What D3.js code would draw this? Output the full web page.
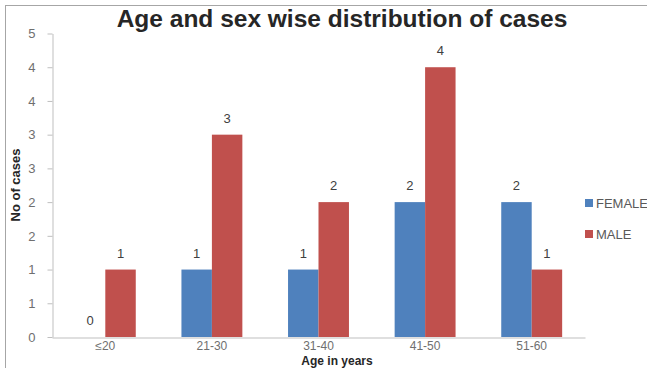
<!DOCTYPE html>
<html>
<head>
<meta charset="utf-8">
<script src="https://cdn.jsdelivr.net/npm/d3@7"></script>
<style>
  html, body { margin: 0; padding: 0; background: #fff; }
  svg { display: block; }
  text { font-family: "Liberation Sans", "DejaVu Sans", sans-serif; }
</style>
</head>
<body>
<svg id="chart" width="647" height="368"></svg>
<script>
// Age groups and counts per sex
const categories = ["≤20", "21-30", "31-40", "41-50", "51-60"];
const seriesNames = ["FEMALE", "MALE"];
const female = [0, 1, 1, 2, 2];
const male = [1, 3, 2, 4, 1];
const colors = ["#4f81bd", "#c0504d"];
// Value axis runs 0–4.5 in steps of 0.5; labels are rounded to whole numbers
const yTicks = [0, 0.5, 1, 1.5, 2, 2.5, 3, 3.5, 4, 4.5];

const svg = d3.select("#chart");
const W = 647, H = 368;
const m = { left: 52, right: 585, top: 33.5, bottom: 337 };

// outer chart frame
svg.append("rect")
  .attr("x", 5.5).attr("y", 5.5)
  .attr("width", W + 10).attr("height", H + 10)
  .attr("fill", "#fff").attr("stroke", "#a6a6a6").attr("stroke-width", 1);

const x0 = d3.scaleBand().domain(categories).range([m.left, m.right]).paddingInner(0).paddingOuter(0);
// two bars per group with a 150% gap between groups
const x1 = d3.scaleBand().domain(seriesNames).range([0, x0.bandwidth()]).paddingInner(0).paddingOuter(0.75);
const y = d3.scaleLinear().domain([0, 4.5]).range([m.bottom, m.top]);

// y axis
const yAxis = d3.axisLeft(y).tickValues(yTicks)
  .tickFormat(d => String(Math.floor(d + 0.5))).tickSizeInner(5).tickSizeOuter(0).tickPadding(12);
const gy = svg.append("g").attr("transform", `translate(${m.left + 0.5},0)`).call(yAxis);
gy.select(".domain").attr("stroke", "#bfbfbf");
gy.selectAll(".tick line").attr("stroke", "#bfbfbf");
gy.selectAll(".tick text").attr("fill", "#6f6f6f").attr("font-size", 13)
  .attr("font-family", "'Liberation Sans', sans-serif");

// x axis
const xAxis = d3.axisBottom(x0).tickSize(0).tickPadding(4);
const gx = svg.append("g").attr("transform", `translate(0,${m.bottom + 0.5})`).call(xAxis);
gx.select(".domain").attr("stroke", "#bfbfbf");
gx.selectAll(".tick text").attr("fill", "#6f6f6f").attr("font-size", 12)
  .attr("font-family", "'Liberation Sans', sans-serif");

// bars
const rows = categories.map((c, i) => ({ cat: c, values: [female[i], male[i]] }));
const groups = svg.append("g").selectAll("g").data(rows).join("g")
  .attr("transform", d => `translate(${x0(d.cat)},0)`);

groups.selectAll("rect").data(d => d.values.map((v, j) => ({ v, j })))
  .join("rect")
  .attr("x", d => x1(seriesNames[d.j]))
  .attr("width", x1.bandwidth())
  .attr("y", d => y(d.v))
  .attr("height", d => y(0) - y(d.v))
  .attr("fill", d => colors[d.j]);

// value labels
groups.selectAll("text.val").data(d => d.values.map((v, j) => ({ v, j })))
  .join("text").attr("class", "val")
  .attr("x", d => x1(seriesNames[d.j]) + x1.bandwidth() / 2)
  .attr("y", d => y(d.v) - 12)
  .attr("text-anchor", "middle")
  .attr("font-size", 13)
  .attr("fill", "#404040")
  .text(d => d.v);

// title
svg.append("text")
  .attr("x", 342).attr("y", 27)
  .attr("text-anchor", "middle")
  .attr("font-size", 24.5).attr("font-weight", "bold")
  .attr("fill", "#262626")
  .text("Age and sex wise distribution of cases");

// axis titles
svg.append("text")
  .attr("transform", "translate(20,185) rotate(-90)")
  .attr("text-anchor", "middle")
  .attr("font-size", 13).attr("font-weight", "bold").attr("fill", "#262626")
  .text("No of cases");

svg.append("text")
  .attr("x", 337).attr("y", 365)
  .attr("text-anchor", "middle")
  .attr("font-size", 12).attr("font-weight", "bold").attr("fill", "#262626")
  .text("Age in years");

// legend
const legend = svg.append("g").selectAll("g").data(seriesNames).join("g")
  .attr("transform", (d, i) => `translate(585,${199 + i * 31})`);
legend.append("rect").attr("width", 8).attr("height", 8).attr("fill", (d, i) => colors[i]);
legend.append("text").attr("x", 11).attr("y", 9)
  .attr("font-size", 13).attr("fill", "#595959").text(d => d);
</script>
</body>
</html>
